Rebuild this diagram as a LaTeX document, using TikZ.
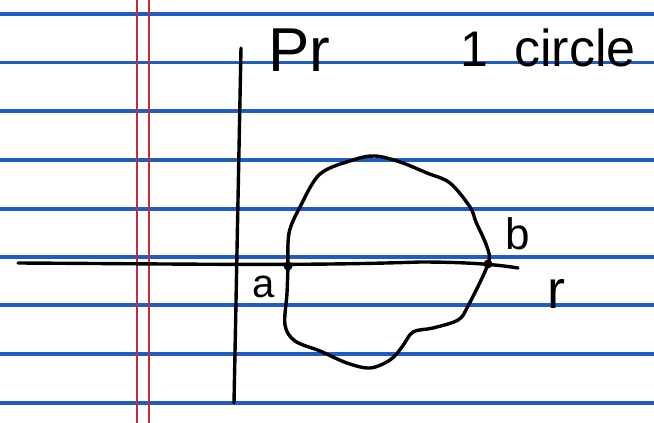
\documentclass[tikz,border=0pt]{standalone}
\usepackage{fontspec}
\setmainfont{Liberation Sans}
\begin{document}
\begin{tikzpicture}[x=1pt,y=-1pt,
  ruled/.style={draw=rulblue,line width=3.2pt},
  margin/.style={draw=margred,line width=1.4pt},
  ink/.style={draw=black,line width=3.4pt,line cap=round,line join=round},
  lbl/.style={inner sep=0pt,text=black},
  dotpt/.style={fill=black,circle,inner sep=0pt,minimum size=9pt}]
\definecolor{rulblue}{HTML}{1F5CC4}
\definecolor{margred}{HTML}{B8323C}
\useasboundingbox (0,0) rectangle (654,423);
\fill[white] (0,0) rectangle (654,423);
% ruled lines
\foreach \yy in {14,62.5,111,160,209,257,305,354,403}
  \draw[ruled] (0,\yy) -- (654,\yy);
% margin lines
\draw[margin] (137,0) -- (137,423);
\draw[margin] (149,0) -- (149,423);
% axes
\coordinate (hl) at (18,263);
\coordinate (hr) at (518,268);
\coordinate (vt) at (241,48);
\coordinate (vb) at (234,403);
\draw[ink] (hl) .. controls (200,264) and (300,266) .. (420,262) .. controls (470,262) and (500,265) .. (hr);
\draw[ink] (vt) -- (vb);
% points a and b
\coordinate (a) at (288,266);
\coordinate (b) at (488,264);
% closed curve
\draw[ink] plot[smooth, tension=0.55] coordinates {
  (a) (287,293) (285,325) (295,341) (320,351) (347,363) (370,368)
  (390,360) (402,347) (413,332) (433,328) (458,320) (468,306) (b)
  (487,247) (476,222) (470,207) (450,183) (427,173) (400,162) (375,156)
  (353,160) (320,174) (300,207) (289,233) (a)};
\node[dotpt] (da) at (a) {};
\node[dotpt] (db) at (b) {};
% labels
\node[lbl,anchor=base west,font=\fontsize{62}{62}\selectfont] (pr) at (268,71) {Pr};
\node[lbl,anchor=base west,font=\fontsize{50}{50}\selectfont] (one) at (460,66) {1};
\node[lbl,anchor=base west,font=\fontsize{52}{52}\selectfont] (circ) at (514,66) {circle};
\node[lbl,font=\fontsize{40}{40}\selectfont] (la) at (264,287) {a};
\node[lbl,font=\fontsize{44}{44}\selectfont] (lb) at (518,234) {b};
\node[lbl,font=\fontsize{54}{54}\selectfont] (lr) at (556,294) {r};
\end{tikzpicture}
\end{document}
